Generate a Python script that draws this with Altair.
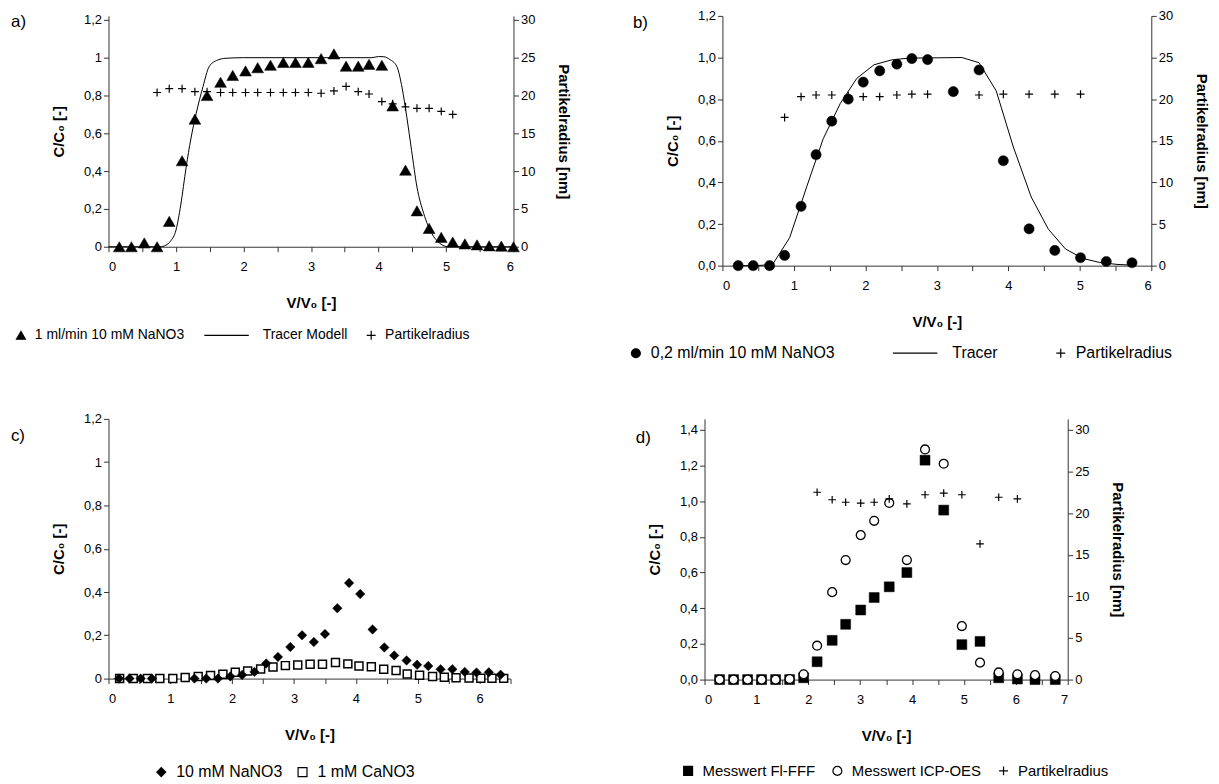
import altair as alt
import pandas as pd

FONT = "Liberation Sans"
PLUS = "M-1,0L1,0M0,-1L0,1"
LINE_SYM = "M-10,0L0,0"
AX = "#333333"

# ---------------- panel a ----------------
a_tri_x = [0.16, 0.34, 0.53, 0.72, 0.90, 1.09, 1.28, 1.46, 1.66, 1.84, 2.03, 2.21, 2.40, 2.59, 2.77, 2.96,
           3.15, 3.34, 3.52, 3.70, 3.86, 4.05, 4.21, 4.40, 4.57, 4.75, 4.93, 5.10, 5.28, 5.46, 5.64, 5.82, 6.00]
a_tri_y = [0, 0, 0.02, 0, 0.134, 0.455, 0.675, 0.80, 0.87, 0.906, 0.93, 0.947, 0.96, 0.975, 0.975, 0.975,
           0.995, 1.02, 0.955, 0.955, 0.965, 0.96, 0.745, 0.405, 0.19, 0.097, 0.05, 0.025, 0.015, 0.01, 0.005, 0.003, 0.0]
a_plus_x = [0.72, 0.90, 1.09, 1.28, 1.46, 1.66, 1.84, 2.03, 2.21, 2.40, 2.59, 2.77, 2.96, 3.15, 3.34, 3.52,
            3.70, 3.86, 4.05, 4.21, 4.40, 4.57, 4.75, 4.93, 5.10]
a_plus_y = [20.4, 20.9, 20.9, 20.5, 20.5, 20.4, 20.4, 20.4, 20.4, 20.4, 20.4, 20.4, 20.4, 20.3, 20.6, 21.2,
            20.5, 20.2, 19.2, 18.9, 18.5, 18.3, 18.3, 17.9, 17.5]
a_line_x = [0, 0.76, 0.85, 0.92, 1.0, 1.07, 1.15, 1.22, 1.30, 1.40, 1.49, 1.60, 1.74, 2.0, 3.9, 4.0,
            4.08, 4.17, 4.27, 4.35, 4.42, 4.49, 4.57, 4.67, 4.79, 4.91, 5.03, 6.0]
a_line_y = [0, 0, 0.008, 0.03, 0.088, 0.22, 0.42, 0.57, 0.706, 0.847, 0.952, 0.985, 0.997, 1.0, 1.0, 1.006,
            1.005, 0.99, 0.955, 0.84, 0.685, 0.51, 0.316, 0.176, 0.07, 0.018, 0.0, 0.0]
a_series = ["1 ml/min 10 mM NaNO3", "Tracer Modell", "Partikelradius"]

# ---------------- panel b ----------------
b_dot_x = [0.22, 0.43, 0.66, 0.87, 1.10, 1.31, 1.53, 1.76, 1.97, 2.20, 2.44, 2.65, 2.87, 3.23, 3.59, 3.93,
           4.29, 4.65, 5.01, 5.37, 5.73]
b_dot_y = [0, 0, 0, 0.049, 0.285, 0.533, 0.694, 0.80, 0.882, 0.936, 0.968, 0.995, 0.99, 0.836, 0.94, 0.504,
           0.177, 0.073, 0.038, 0.02, 0.014]
b_plus_x = [0.87, 1.10, 1.31, 1.53, 1.76, 1.97, 2.20, 2.44, 2.65, 2.87, 3.23, 3.59, 3.93, 4.29, 4.65, 5.01]
b_plus_y = [17.8, 20.3, 20.5, 20.5, 20.4, 20.3, 20.3, 20.5, 20.6, 20.6, 20.9, 20.5, 20.6, 20.6, 20.6, 20.6]
b_line_x = [0.2, 0.46, 0.70, 0.94, 1.18, 1.41, 1.65, 1.88, 2.12, 2.36, 2.60, 3.35, 3.59, 3.83, 4.07, 4.32,
            4.56, 4.80, 5.04, 5.28, 5.52, 5.76]
b_line_y = [0, 0, 0.005, 0.134, 0.38, 0.61, 0.78, 0.90, 0.965, 0.988, 0.997, 1.0, 0.975, 0.84, 0.57, 0.33,
            0.175, 0.08, 0.035, 0.015, 0.006, 0.002]
b_series = ["0,2 ml/min 10 mM NaNO3", "Tracer", "Partikelradius"]

# ---------------- panel c ----------------
c_dia_x = [0.17, 0.34, 0.52, 0.70, 1.39, 1.58, 1.77, 1.97, 2.16, 2.36, 2.55, 2.74, 2.94, 3.13, 3.32, 3.50,
           3.70, 3.89, 4.07, 4.27, 4.46, 4.62, 4.82, 4.99, 5.17, 5.37, 5.56, 5.76, 5.95, 6.15, 6.34]
c_dia_y = [0, 0, 0, 0, 0, 0, 0, 0.01, 0.017, 0.031, 0.07, 0.10, 0.146, 0.20, 0.169, 0.206,
           0.325, 0.442, 0.391, 0.227, 0.144, 0.107, 0.084, 0.064, 0.058, 0.043, 0.043, 0.031, 0.028, 0.029, 0.018]
c_sq_x = [0.18, 0.40, 0.63, 0.83, 1.04, 1.24, 1.45, 1.65, 1.85, 2.05, 2.25, 2.46, 2.66, 2.86, 3.06, 3.26,
          3.46, 3.67, 3.87, 4.05, 4.25, 4.45, 4.65, 4.83, 5.03, 5.24, 5.43, 5.62, 5.83, 6.02, 6.20, 6.39]
c_sq_y = [0, 0, 0, 0, 0, 0.005, 0.01, 0.014, 0.02, 0.029, 0.035, 0.044, 0.054, 0.06, 0.063, 0.066,
          0.066, 0.074, 0.068, 0.058, 0.055, 0.043, 0.037, 0.021, 0.015, 0.01, 0.006, 0.004, 0.003, 0.002, 0.002, 0.001]
c_series = ["10 mM NaNO3", "1 mM CaNO3"]

# ---------------- panel d ----------------
d_x = [0.29, 0.56, 0.83, 1.10, 1.37, 1.64, 1.91, 2.17, 2.46, 2.72, 3.01, 3.27, 3.56, 3.90, 4.25, 4.61,
       4.96, 5.31, 5.67, 6.03, 6.37, 6.76]
d_sq_y = [0, 0, 0, 0, 0, 0, 0.01, 0.10, 0.22, 0.31, 0.39, 0.46, 0.52, 0.60, 1.23, 0.95,
          0.196, 0.214, 0.01, 0.003, 0, 0]
d_circ_y = [0, 0, 0, 0, 0, 0.003, 0.03, 0.19, 0.49, 0.67, 0.81, 0.89, 0.99, 0.67, 1.29, 1.21,
            0.30, 0.095, 0.04, 0.03, 0.025, 0.02]
d_plus_x = [2.17, 2.46, 2.72, 3.01, 3.27, 3.56, 3.90, 4.25, 4.61, 4.96, 5.31, 5.67, 6.03]
d_plus_y = [22.5, 21.6, 21.3, 21.2, 21.3, 21.7, 21.1, 22.2, 22.4, 22.2, 16.3, 21.9, 21.7]
d_series = ["Messwert Fl-FFF", "Messwert ICP-OES", "Partikelradius"]

IND = dict(shape="independent", fill="independent", stroke="independent")


def frame(xs, ys, s):
    return pd.DataFrame({"x": xs, "y": ys, "s": s})


def x_enc(xmax):
    vals = [i * 0.5 for i in range(int(xmax * 2) + 1)]
    return alt.X("x:Q", scale=alt.Scale(domain=[0, xmax], nice=False, zero=False),
                 axis=alt.Axis(values=vals, title="V/V₀ [-]",
                               labelExpr="datum.value % 1 == 0 ? format(datum.value, 'd') : ''",
                               titlePadding=22, labelPadding=9))


def yl_enc(ymax, top, fixed):
    # top: upper end of the scale (slightly above the last labelled tick where needed)
    n = int(round(ymax / 0.2))
    vals = [round(i * 0.2, 1) for i in range(n + 1)]
    fmt = ".1f" if fixed else ".1~f"
    return alt.Y("y:Q", scale=alt.Scale(domain=[0, top], nice=False),
                 axis=alt.Axis(values=vals, title="C/C₀ [-]",
                               labelExpr="replace(format(datum.value, '%s'), '.', ',')" % fmt,
                               titlePadding=17))


def yr_enc(top):
    return alt.Y("y:Q", scale=alt.Scale(domain=[0, top], nice=False),
                 axis=alt.Axis(orient="right", values=list(range(0, 31, 5)), title="Partikelradius [nm]",
                               titlePadding=21))


def legend(lx, ly, pad, fs=14):
    return alt.Legend(title=None, orient="none", legendX=lx, legendY=ly, direction="horizontal",
                      labelFont=FONT, labelFontSize=fs, labelColor="black", columnPadding=pad,
                      symbolSize=80, symbolStrokeWidth=1.2, labelOffset=7, labelLimit=500)


def style_enc(domain, shapes, fills, lg):
    return dict(
        shape=alt.Shape("s:N", scale=alt.Scale(domain=domain, range=shapes), legend=lg),
        fill=alt.Fill("s:N", scale=alt.Scale(domain=domain, range=fills), legend=lg),
        stroke=alt.Stroke("s:N", scale=alt.Scale(domain=domain, range=["black"] * len(domain)), legend=lg),
    )


def pts(df, x, y, st, size, sw=1.2):
    return alt.Chart(df).mark_point(filled=False, size=size, strokeWidth=sw, opacity=1).encode(
        x=x, y=y, **st)


def panel_title(t, dx, off):
    return alt.TitleParams(t, anchor="start", dx=dx, offset=off, fontSize=17, fontWeight="normal",
                           font=FONT, color="black", baseline="top")


# ----- a -----  (plot area 15..247, the 1,2 tick sits 4 px below the top)
A_YT = 1.2 * 232 / 228
lg_a = legend(-95, 314, 16)
st_a = style_enc(a_series, ["triangle-up", LINE_SYM, PLUS], ["black", "transparent", "transparent"], lg_a)
la = alt.Chart(frame(a_line_x, a_line_y, "Tracer Modell")).mark_line(
    color="black", strokeWidth=1, interpolate="monotone").encode(x=x_enc(6), y=yl_enc(1.2, A_YT, False))
ta = pts(frame(a_tri_x, a_tri_y, a_series[0]), x_enc(6), yl_enc(1.2, A_YT, False), st_a, 140, 0.5)
pa = pts(frame(a_plus_x, a_plus_y, a_series[2]), x_enc(6), yr_enc(30 * 232 / 228), st_a, 64)
chart_a = alt.layer(alt.layer(la, ta), pa).resolve_scale(y="independent").properties(
    width=407, height=232, title=panel_title("a)", -3, -17))

# ----- b -----
lg_b = legend(-95, 331, 55, 16)
st_b = style_enc(b_series, ["circle", LINE_SYM, PLUS], ["black", "transparent", "transparent"], lg_b)
lb = alt.Chart(frame(b_line_x, b_line_y, "Tracer")).mark_line(
    color="black", strokeWidth=1).encode(x=x_enc(6), y=yl_enc(1.2, 1.2, True))
tb = pts(frame(b_dot_x, b_dot_y, b_series[0]), x_enc(6), yl_enc(1.2, 1.2, True), st_b, 105, 0.5)
pb = pts(frame(b_plus_x, b_plus_y, b_series[2]), x_enc(6), yr_enc(30), st_b, 64)
chart_b = alt.layer(alt.layer(lb, tb), pb).resolve_scale(y="independent").properties(
    width=431, height=251, title=panel_title("b)", 5, -22))

# ----- c -----
lg_c = legend(45, 347, 12, 16)
st_c = style_enc(c_series, ["diamond", "square"], ["black", "white"], lg_c)
dc = pts(frame(c_dia_x, c_dia_y, c_series[0]), x_enc(6.5), yl_enc(1.2, 1.2, False), st_c, 90, 0.5)
sc = pts(frame(c_sq_x, c_sq_y, c_series[1]), x_enc(6.5), yl_enc(1.2, 1.2, False), st_c, 64, 1.5)
chart_c = alt.layer(sc, dc).properties(width=404, height=261, title=panel_title("c)", -41, -32))

# ----- d -----  (plot area 419..681, the 1,4 tick sits 11 px below the top)
D_H = 262
lg_d = legend(-24, 346, 14, 15)
st_d = style_enc(d_series, ["square", "circle", PLUS], ["black", "white", "transparent"], lg_d)
sd = pts(frame(d_x, d_sq_y, d_series[0]), x_enc(7), yl_enc(1.4, 1.4 * D_H / 251, True), st_d, 100, 0.5)
cd = pts(frame(d_x, d_circ_y, d_series[1]), x_enc(7), yl_enc(1.4, 1.4 * D_H / 251, True), st_d, 80, 1.3)
pd_ = pts(frame(d_plus_x, d_plus_y, d_series[2]), x_enc(7), yr_enc(30 * D_H / 251), st_d, 60)
chart_d = alt.layer(alt.layer(sd, cd), pd_).resolve_scale(y="independent").properties(
    width=365, height=D_H, title=panel_title("d)", -12, -28))

row1 = alt.hconcat(chart_a, chart_b, spacing=210, bounds="flush").resolve_scale(**IND).resolve_legend(**IND)
row2 = alt.hconcat(chart_c, chart_d, spacing=195, bounds="flush").resolve_scale(**IND).resolve_legend(**IND)

chart = alt.vconcat(row1, row2, spacing=52).resolve_scale(**IND).resolve_legend(**IND).properties(
    padding={"left": 2, "top": 0, "right": 2, "bottom": 2}
).configure_axis(
    labelFont=FONT, titleFont=FONT, labelFontSize=13, titleFontSize=15, titleFontWeight="bold",
    labelColor="black", titleColor="black", domainColor=AX, tickColor=AX, tickSize=5, grid=False,
    labelFontWeight="normal"
).configure_view(stroke=None)

chart.save("out.html", embed_options={"renderer": "svg", "actions": False})
